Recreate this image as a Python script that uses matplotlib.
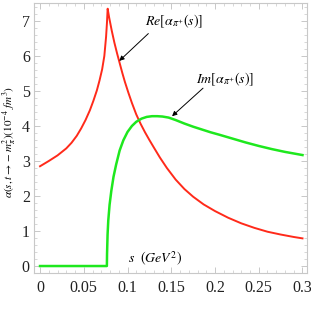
import matplotlib
matplotlib.use('Agg')
import matplotlib.pyplot as plt
from matplotlib.ticker import MultipleLocator, FixedLocator

plt.rcParams['font.family'] = 'Liberation Serif'
plt.rcParams['mathtext.fontset'] = 'stix'

# Re part (red)
s_re = [0, 0.01, 0.02, 0.03, 0.036, 0.042, 0.047, 0.052, 0.057, 0.061, 0.065, 0.068,
        0.071, 0.0735, 0.0755, 0.0765, 0.0773,
        0.079, 0.082, 0.085, 0.088, 0.091, 0.094, 0.097, 0.101, 0.105, 0.11, 0.115,
        0.12, 0.125, 0.13, 0.137, 0.145, 0.155, 0.165, 0.175, 0.187, 0.2, 0.215,
        0.23, 0.245, 0.26, 0.275, 0.29, 0.3]
re_vals = [2.85, 3.0, 3.16, 3.36, 3.52, 3.72, 3.93, 4.17, 4.45, 4.72, 5.02, 5.3,
           5.62, 6.0, 6.55, 6.95, 7.35,
           7.1, 6.72, 6.38, 6.08, 5.8, 5.52, 5.26, 4.95, 4.66, 4.33, 4.06,
           3.82, 3.6, 3.39, 3.1, 2.8, 2.47, 2.2, 1.98, 1.76, 1.57, 1.38,
           1.22, 1.09, 0.98, 0.9, 0.83, 0.79]

# Im part (green)
s_im = [0, 0.0764, 0.0766, 0.0772, 0.078, 0.0795, 0.0815, 0.084, 0.087, 0.091,
        0.0952, 0.1, 0.105, 0.11, 0.116, 0.122, 0.128, 0.134, 0.14, 0.147, 0.155,
        0.165, 0.175, 0.185, 0.195, 0.205, 0.22, 0.235, 0.25, 0.265, 0.28, 0.3]
im_vals = [0, 0, 0.35, 0.9, 1.3, 1.75, 2.15, 2.55, 2.9, 3.3,
           3.59, 3.83, 4.0, 4.12, 4.21, 4.26, 4.28, 4.28, 4.27, 4.24, 4.17,
           4.07, 3.98, 3.9, 3.82, 3.75, 3.64, 3.53, 3.43, 3.34, 3.26, 3.17]

xticks = [0, 0.05, 0.1, 0.15, 0.2, 0.25, 0.3]
xlabels = ['0', '0.05', '0.1', '0.15', '0.2', '0.25', '0.3']
yticks = [0, 1, 2, 3, 4, 5, 6, 7]

fig = plt.figure(figsize=(3.11, 3.11), dpi=100)
ax = fig.add_axes([0.1093, 0.1232, 0.8777, 0.8668])

ax.plot(s_re, re_vals, color='#ff2a1a', lw=1.4)
ax.plot(s_im, im_vals, color='#1ee81e', lw=1.8)

ax.set_xlim(-0.0069, 0.3051)
ax.set_ylim(-0.19, 7.51)

ax.xaxis.set_major_locator(FixedLocator(xticks))
ax.set_xticklabels(xlabels)
ax.xaxis.set_minor_locator(MultipleLocator(0.01))
ax.yaxis.set_major_locator(FixedLocator(yticks))
ax.yaxis.set_minor_locator(MultipleLocator(0.2))

for sp in ax.spines.values():
    sp.set_color('#c8c8c8')
    sp.set_linewidth(0.8)
ax.tick_params(which='both', direction='in', top=True, right=True,
               color='#c8c8c8', labelsize=11.5, labelcolor='#222222')
ax.tick_params(which='major', length=4, width=0.7)
ax.tick_params(axis='x', which='major', pad=5)
ax.tick_params(axis='y', which='major', pad=3)
ax.tick_params(which='minor', length=2, width=0.5)

ax.set_ylabel(r'$\alpha(s,t\rightarrow -m_{\pi}^{2})(10^{-4}\ fm^{3})$', fontsize=8)
ax.yaxis.set_label_coords(-0.055, 0.485)
ax.text(0.1314, 0.19, r'$s\ \ (GeV^{2})$', fontsize=10, ha='center', va='center')

ax.text(0.153, 6.99, r'$Re[\alpha_{\pi^{+}}(s)]$', fontsize=10, ha='center', va='center')
ax.annotate('', xy=(0.0906, 5.86), xytext=(0.1238, 6.64),
            arrowprops=dict(arrowstyle='-|>', color='black', lw=0.7,
                            mutation_scale=7, shrinkA=0, shrinkB=0))
ax.text(0.2114, 5.33, r'$Im[\alpha_{\pi^{+}}(s)]$', fontsize=10, ha='center', va='center')
ax.annotate('', xy=(0.1509, 4.28), xytext=(0.1863, 5.08),
            arrowprops=dict(arrowstyle='-|>', color='black', lw=0.7,
                            mutation_scale=7, shrinkA=0, shrinkB=0))

fig.savefig('out.png', dpi=100)
